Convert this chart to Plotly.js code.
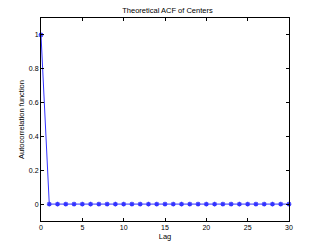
<!DOCTYPE html>
<html><head><meta charset="utf-8">
<script src="https://cdn.plot.ly/plotly-3.0.1.min.js"></script>
<style>html,body{margin:0;padding:0;background:#fff;}#plot{width:319px;height:249px;}</style>
</head><body><div id="plot"></div>
<script>
const lags = [0,1,2,3,4,5,6,7,8,9,10,11,12,13,14,15,16,17,18,19,20,21,22,23,24,25,26,27,28,29,30];
const acf = [1,0,0,0,0,0,0,0,0,0,0,0,0,0,0,0,0,0,0,0,0,0,0,0,0,0,0,0,0,0,0];
const xTicks = [0,5,10,15,20,25,30];
const yTicks = [0,0.2,0.4,0.6,0.8,1];
const yTickText = ['0','0.2','0.4','0.6','0.8','1'];

const fontFam = 'Liberation Sans, Arial, sans-serif';
const trace = {
  x: lags, y: acf, type: 'scatter', mode: 'lines+markers',
  line: {color: '#3333ff', width: 1},
  marker: {symbol: 'asterisk-open', size: 4, color: '#3333ff', line: {color: '#3333ff', width: 1.2}},
  cliponaxis: false
};
const axisCommon = {
  showline: true, linecolor: '#000', linewidth: 1, mirror: 'ticks',
  ticks: 'inside', ticklen: 3, tickcolor: '#000', tickwidth: 1,
  showgrid: false, zeroline: false,
  tickfont: {family: fontFam, size: 7, color: '#000'}
};
const layout = {
  width: 319, height: 249,
  margin: {l: 41, r: 30, t: 18, b: 28},
  paper_bgcolor: '#fff', plot_bgcolor: '#fff',
  showlegend: false,
  title: {text: 'Theoretical ACF of Centers', font: {family: fontFam, size: 7.5, color: '#000'}, x: 0.525, xanchor: 'center', y: 0.96, yanchor: 'middle'},
  xaxis: Object.assign({}, axisCommon, {range: [0, 30], tickvals: xTicks, ticktext: xTicks.map(String),
    title: {text: 'Lag', font: {family: fontFam, size: 7.5, color: '#000'}, standoff: 3}}),
  yaxis: Object.assign({}, axisCommon, {range: [-0.1, 1.1], tickvals: yTicks, ticktext: yTickText,
    title: {text: 'Autocorrelation function', font: {family: fontFam, size: 7.5, color: '#000'}, standoff: 3}})
};
Plotly.newPlot('plot', [trace], layout, {staticPlot: true, displayModeBar: false});
</script></body></html>
